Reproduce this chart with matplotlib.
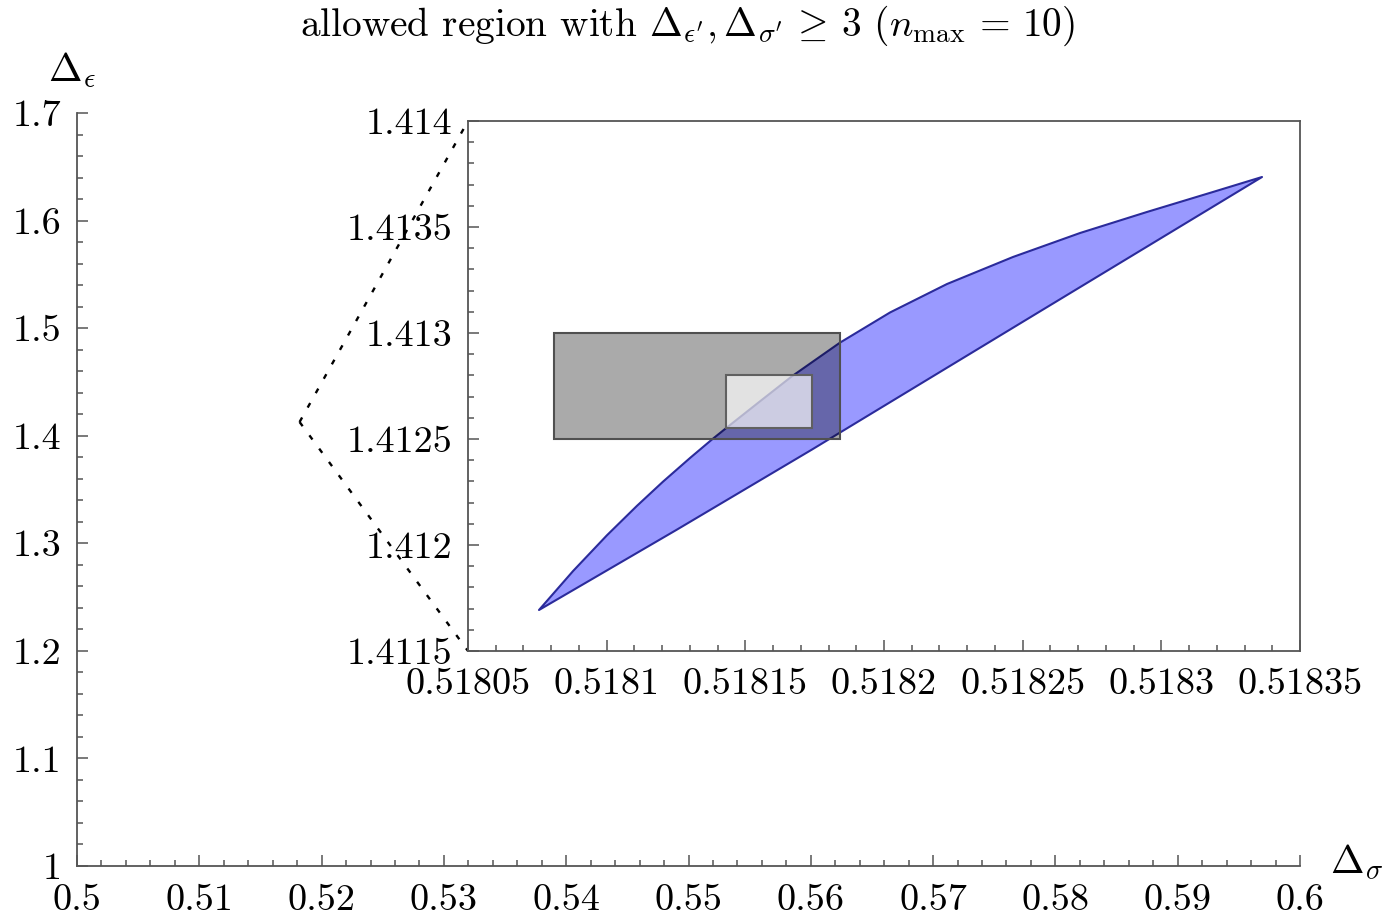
import numpy as np
import matplotlib
matplotlib.use("Agg")
import matplotlib.pyplot as plt
from matplotlib.patches import Polygon, Rectangle
from matplotlib.ticker import MultipleLocator

plt.rc('font', **{'size': 27.5, 'family': 'serif', 'serif': ['cmr10']})
plt.rc('mathtext', **{'fontset': 'cm'})
plt.rcParams['axes.unicode_minus'] = False

# main axes ticks
main_xticks = [0.5, 0.51, 0.52, 0.53, 0.54, 0.55, 0.56, 0.57, 0.58, 0.59, 0.6]
main_xlabels = ['0.5', '0.51', '0.52', '0.53', '0.54', '0.55', '0.56', '0.57', '0.58', '0.59', '0.6']
main_yticks = [1.0, 1.1, 1.2, 1.3, 1.4, 1.5, 1.6, 1.7]
main_ylabels = ['1', '1.1', '1.2', '1.3', '1.4', '1.5', '1.6', '1.7']

# inset ticks
in_xticks = [0.51805, 0.5181, 0.51815, 0.5182, 0.51825, 0.5183, 0.51835]
in_xlabels = ['0.51805', '0.5181', '0.51815', '0.5182', '0.51825', '0.5183', '0.51835']
in_yticks = [1.4115, 1.412, 1.4125, 1.413, 1.4135, 1.414]
in_ylabels = ['1.4115', '1.412', '1.4125', '1.413', '1.4135', '1.414']

# allowed region boundary (upper and lower edges)
upper_x = [0.5180756, 0.5180879, 0.5181001, 0.5181109, 0.5181203, 0.5181301,
           0.5181380, 0.5181434, 0.5181553, 0.5181668, 0.5181841, 0.5182022,
           0.5182227, 0.5182465, 0.5182707, 0.5182948, 0.5183186, 0.5183363]
upper_y = [1.4116934, 1.4118774, 1.4120458, 1.4121844, 1.4122986, 1.4124109,
           1.4124981, 1.4125547, 1.4126778, 1.4127958, 1.4129543, 1.4130970,
           1.4132310, 1.4133585, 1.4134717, 1.4135708, 1.4136651, 1.4137358]
lower_x = [0.5180756, 0.518125, 0.518174, 0.518256, 0.5183363]
lower_y = [1.4116934, 1.41207, 1.41245, 1.41310, 1.4137358]

# error boxes
box_dark_x = [0.518081, 0.518184]
box_dark_y = [1.4125, 1.4130]
box_light_x = [0.518143, 0.518174]
box_light_y = [1.412553, 1.412802]

W, H = 1392, 917
fig = plt.figure(figsize=(W / 100, H / 100), dpi=100)

spine_c = '#555555'

################################################
####               main axes                 ###
################################################
ax = fig.add_axes([77 / W, 1 - 866 / H, (1300 - 77) / W, (866 - 113) / H])
ax.set_xlim(0.5, 0.6)
ax.set_ylim(1.0, 1.7)
for s in ['top', 'right']:
    ax.spines[s].set_visible(False)
for s in ['left', 'bottom']:
    ax.spines[s].set_color(spine_c)
    ax.spines[s].set_linewidth(1.3)
ax.set_xticks(main_xticks)
ax.set_xticklabels(main_xlabels)
ax.set_yticks(main_yticks)
ax.set_yticklabels(main_ylabels)
ax.xaxis.set_minor_locator(MultipleLocator(0.002))
ax.yaxis.set_minor_locator(MultipleLocator(0.02))
ax.tick_params(which='both', direction='in', color=spine_c, width=1.1)
ax.tick_params(which='major', length=8)
ax.tick_params(which='minor', length=4.5)
ax.tick_params(axis='x', which='major', pad=13)
ax.tick_params(axis='y', which='major', pad=11)

################################################
####                 inset                   ###
################################################
axi = fig.add_axes([468 / W, 1 - 651 / H, 832 / W, 530 / H])
axi.set_xlim(in_xticks[0], in_xticks[-1])
axi.set_ylim(in_yticks[0], in_yticks[-1])
for s in axi.spines.values():
    s.set_color(spine_c)
    s.set_linewidth(1.3)
axi.set_xticks(in_xticks)
axi.set_xticklabels(in_xlabels)
axi.set_yticks(in_yticks)
axi.set_yticklabels(in_ylabels)
axi.xaxis.set_minor_locator(MultipleLocator(0.00001))
axi.yaxis.set_minor_locator(MultipleLocator(0.0001))
axi.tick_params(which='both', direction='in', color=spine_c, width=1.1,
                top=False, right=False)
axi.tick_params(which='major', length=8)
axi.tick_params(which='minor', length=4.5)
axi.tick_params(axis='x', which='major', pad=12)
axi.tick_params(axis='y', which='major', pad=11)

region = list(zip(upper_x, upper_y)) + list(zip(lower_x[::-1], lower_y[::-1]))
axi.add_patch(Polygon(region, closed=True, facecolor=(0, 0, 1, 0.4),
                      edgecolor='#2b2b9b', lw=1.5, joinstyle='round', zorder=2))
axi.add_patch(Rectangle((box_dark_x[0], box_dark_y[0]),
                        box_dark_x[1] - box_dark_x[0], box_dark_y[1] - box_dark_y[0],
                        facecolor=(0, 0, 0, 0.333), edgecolor='#505050', lw=1.5, zorder=3))
axi.add_patch(Rectangle((box_light_x[0], box_light_y[0]),
                        box_light_x[1] - box_light_x[0], box_light_y[1] - box_light_y[0],
                        facecolor=(1, 1, 1, 0.67), edgecolor='#606060', lw=1.5, zorder=4))

# dotted zoom lines from the zoomed point to the inset corners
fig.canvas.draw()
zx = np.mean(axi.get_xlim())
zy = np.mean(axi.get_ylim())
inv = ax.transData.inverted()
for corner in [(0, 1), (0, 0)]:
    cx, cy = inv.transform(axi.transAxes.transform(corner))
    ax.plot([zx, cx], [zy, cy], color='k', lw=1.7, ls=(0, (2.2, 4.8)),
            clip_on=False, zorder=1)

# labels
fig.text(688 / W, 1 - 26 / H,
         r"allowed region with $\Delta_{\epsilon'},\Delta_{\sigma'}\,\geq\,3$ $(n_{\mathrm{max}}\,=\,10)$",
         ha='center', va='center', fontsize=28.3)
fig.text(72 / W, 1 - 70 / H, r'$\Delta_\epsilon$', ha='center', va='center', fontsize=29)
fig.text(1357 / W, 1 - 862 / H, r'$\Delta_\sigma$', ha='center', va='center', fontsize=29)

fig.savefig('out.png', dpi=100)
